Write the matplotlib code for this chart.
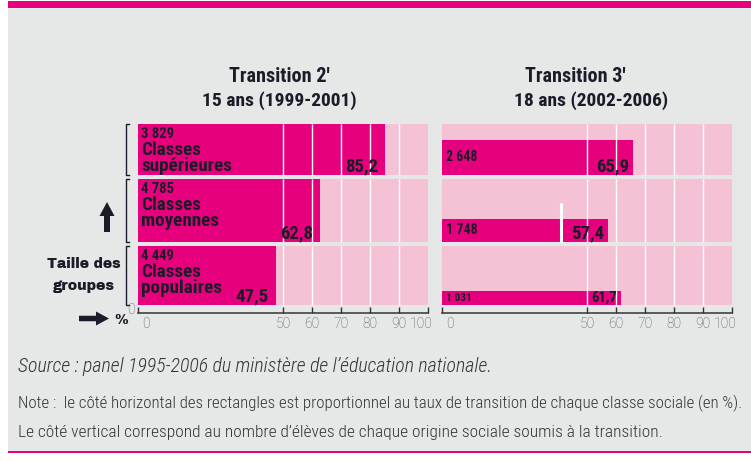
import matplotlib
matplotlib.use('Agg')
import matplotlib.pyplot as plt
import matplotlib.transforms as mtransforms
from matplotlib.patches import Rectangle, FancyArrow

# Data
class_names = ['Classes\nsupérieures', 'Classes\nmoyennes', 'Classes\npopulaires']
effectifs_2 = [3829, 4785, 4449]      # students facing transition 2' (15 ans)
taux_2 = [85.2, 62.8, 47.5]           # transition rate (%)
effectifs_3 = [2648, 1748, 1031]      # students facing transition 3' (18 ans)
taux_3 = [65.9, 57.4, 61.7]
tick_vals = [0, 50, 60, 70, 80, 90, 100]
grid_vals = [50, 60, 70, 80, 90]
repere_x = 41.0                       # stray white mark in the right panel
repere_h = 2960

titles = [('Transition 2\u2032', '15 ans (1999-2001)'),
          ('Transition 3\u2032', '18 ans (2002-2006)')]
source_txt = 'Source : panel 1995-2006 du minist\u00e8re de l\u2019\u00e9ducation nationale.'
note_txt = ['Note :  le c\u00f4t\u00e9 horizontal des rectangles est proportionnel au taux '
            'de transition de chaque classe sociale (en %).',
            'Le c\u00f4t\u00e9 vertical correspond au nombre d\u2019\u00e9l\u00e8ves de chaque '
            'origine sociale soumis \u00e0 la transition.']

# Styles
MAGENTA = '#E6007E'
PINK = '#F5C2D5'
GRAY_BG = '#E6E7E7'
INK = '#1C1C28'
TICK_GRAY = '#555555'
COND = ['Roboto Condensed', 'DejaVu Sans']

plt.rcParams['font.family'] = COND

W, H = 751, 461
fig = plt.figure(figsize=(W / 100, H / 100), dpi=100)
fig.patch.set_facecolor('white')
renderer = fig.canvas.get_renderer()


def fit_width(t, target_px):
    # scale the font so the text spans the width measured on the reference
    w = t.get_window_extent(renderer).width
    t.set_fontsize(t.get_fontsize() * target_px / w)


# background layer in pixel coordinates
bg = fig.add_axes([0, 0, 1, 1], zorder=0)
bg.set_xlim(0, W)
bg.set_ylim(H, 0)
bg.axis('off')
bg.add_patch(Rectangle((8, 8), W - 8, 444, color=GRAY_BG, lw=0))
bg.add_patch(Rectangle((8, 1), W - 8, 7.5, color=MAGENTA, lw=0))
bg.add_patch(Rectangle((8, 451), W - 8, 2, color=MAGENTA, lw=0))


def px_axes(x0, x1, y_top, y_bot):
    return fig.add_axes([x0 / W, 1 - y_bot / H, (x1 - x0) / W, (y_bot - y_top) / H],
                        zorder=1)


ax_l = px_axes(138, 428, 124, 313)
ax_r = px_axes(442, 732, 124, 313)

# vertical scale: band heights proportional to the 15-ans group sizes
total = sum(effectifs_2)
gap_px, base_px, height_px = 4, 8.5, 189
s = (height_px - 2 * gap_px - base_px) / total
gap = gap_px / s
base = base_px / s

bottoms = []
cur = 0
for h in reversed(effectifs_2):
    bottoms.insert(0, cur)
    cur += h + gap


def fmt_int(n):
    return f'{n:,}'.replace(',', ' ')


def fmt_pct(v):
    return f'{v:.1f}'.replace('.', ',')


for ax in (ax_l, ax_r):
    ax.set_facecolor('none')
    ax.set_xlim(0, 100)
    ax.set_ylim(-base, total + 2 * gap)
    for side in ('left', 'right', 'top'):
        ax.spines[side].set_visible(False)
    ax.spines['bottom'].set_color('#333333')
    ax.spines['bottom'].set_linewidth(1.1)
    ax.set_yticks([])
    ax.set_xticks(tick_vals)
    ax.set_xticklabels([str(t) for t in tick_vals], fontsize=10, color=TICK_GRAY,
                       family='Roboto', fontweight='light')
    ax.tick_params(axis='x', direction='in', length=4, width=1, color='#333333', pad=3)
    labels = ax.get_xticklabels()
    for lab, dx in ((labels[0], 8), (labels[-1], -7)):
        lab.set_transform(lab.get_transform()
                          + mtransforms.ScaledTranslation(dx / 100, 0, fig.dpi_scale_trans))
    # pink bands
    ax.barh(bottoms, 100, height=effectifs_2, align='edge', color=PINK, lw=0)

# left panel: full-height bars
ax_l.barh(bottoms, taux_2, height=effectifs_2, align='edge', color=MAGENTA, lw=0)
# right panel: bars sized by the 18-ans group, sitting on the band bottom
ax_r.barh(bottoms, taux_3, height=effectifs_3, align='edge', color=MAGENTA, lw=0)

for ax in (ax_l, ax_r):
    for b, h in zip(bottoms, effectifs_2):
        ax.vlines(grid_vals, b, b + h, color='white', lw=1.0)

ax_r.vlines(repere_x, bottoms[1], bottoms[1] + repere_h, color='white', lw=2.2)

# left panel labels
for name, n, v, b, h in zip(class_names, effectifs_2, taux_2, bottoms, effectifs_2):
    ax_l.annotate(fmt_int(n), xy=(0, b + h), xytext=(3, -14), textcoords='offset pixels',
                  fontsize=10.5, fontweight='bold', color=INK, va='baseline')
    for k, line in enumerate(name.split('\n')):
        ax_l.annotate(line, xy=(0, b + h), xytext=(3, -31 - 16 * k),
                      textcoords='offset pixels', fontsize=13.8, fontweight='bold',
                      color=INK, va='baseline')
    ax_l.annotate(fmt_pct(v), xy=(v, b), xytext=(-7, 3), textcoords='offset pixels',
                  fontsize=13.5, fontweight='bold', color=INK, ha='right', va='baseline')

# right panel labels
count_sizes = [10, 10, 8.2]
value_sizes = [13.5, 13.5, 10.5]
for n, v, b, cs, vs in zip(effectifs_3, taux_3, bottoms, count_sizes, value_sizes):
    ax_r.annotate(fmt_int(n), xy=(0, b + n / 2), xytext=(4, 0), textcoords='offset pixels',
                  fontsize=cs, fontweight='bold', color=INK, va='center')
    ax_r.annotate(fmt_pct(v), xy=(v, b), xytext=(-4, 3), textcoords='offset pixels',
                  fontsize=vs, fontweight='bold', color=INK, ha='right', va='baseline')

# brackets for group sizes
for b, h in zip(bottoms, effectifs_2):
    ax_l.plot([-3.2, -4.2, -4.2, -3.2], [b, b, b + h, b + h], color=INK, lw=1.0,
              clip_on=False)
ax_l.annotate('0', xy=(0, -base), xytext=(-7.5, 3), textcoords='offset pixels',
              fontsize=10, color=TICK_GRAY, ha='center', va='center',
              family='Roboto', fontweight='light')

# titles
for (t1, t2), xc1, xc2 in zip(titles, (279, 575), (279, 591)):
    bg.text(xc1, 81.5, t1, fontsize=14.5, fontweight='bold', color=INK, ha='center',
            va='baseline')
    bg.text(xc2, 105.5, t2, fontsize=14, fontweight='bold', color=INK, ha='center',
            va='baseline')

# side annotations
t = bg.text(84, 268, 'Taille des', fontsize=10, color=INK, ha='center',
            va='baseline', family='Archivo Black')
fit_width(t, 74)
t = bg.text(84, 290, 'groupes', fontsize=10, color=INK, ha='center',
            va='baseline', family='Archivo Black')
fit_width(t, 62)
bg.text(121, 320, '%', fontsize=10, color=INK, ha='center',
        va='center', family='Archivo Black')
bg.add_patch(FancyArrow(107, 232, 0, -30, width=6, head_width=15, head_length=14,
                        length_includes_head=True, color=INK, lw=0))
bg.add_patch(FancyArrow(79, 318.5, 30, 0, width=5.5, head_width=14, head_length=13,
                        length_includes_head=True, color=INK, lw=0))

# footer
t = bg.text(18, 371.5, source_txt, fontsize=13, style='italic', fontweight='light',
            color='#333333', va='baseline')
fit_width(t, 472)
t = bg.text(18, 408, note_txt[0], fontsize=12, fontweight='light', color='#333333',
            va='baseline')
fit_width(t, 724)
t = bg.text(18, 436.5, note_txt[1], fontsize=12, fontweight='light', color='#333333',
            va='baseline')
fit_width(t, 644)

fig.savefig('out.png', dpi=100, facecolor=fig.get_facecolor())
